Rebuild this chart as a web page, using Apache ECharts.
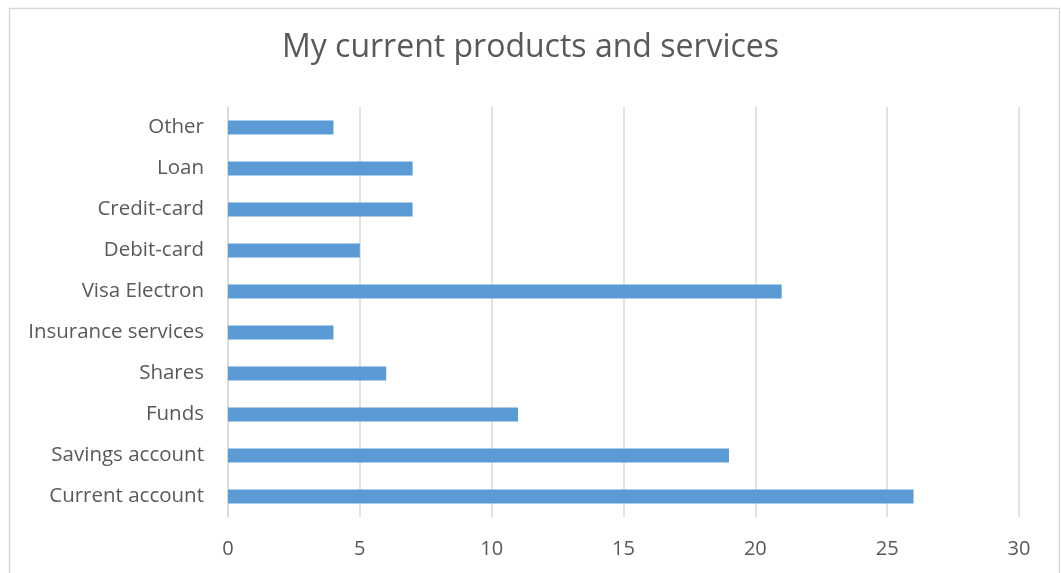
<!DOCTYPE html>
<html>
<head>
<meta charset="utf-8">
<style>
  html, body { margin: 0; padding: 0; background: #ffffff; }
  #chart { width: 1061px; height: 573px; }
</style>
<script src="https://cdn.jsdelivr.net/npm/echarts@6/dist/echarts.min.js"></script>
</head>
<body>
<div id="chart"></div>
<script>
// Products and services currently held (counts)
const categories = [
  'Current account', 'Savings account', 'Funds', 'Shares', 'Insurance services',
  'Visa Electron', 'Debit-card', 'Credit-card', 'Loan', 'Other'
];
const counts = [26, 19, 11, 6, 4, 21, 5, 7, 7, 4];
const xTicks = { min: 0, max: 30, interval: 5 };

const textColor = '#595959';
const fontFamily = '"Open Sans", "Noto Sans", sans-serif';

const chart = echarts.init(document.getElementById('chart'), null, { renderer: 'canvas' });
chart.setOption({
  backgroundColor: '#ffffff',
  animation: false,
  title: {
    text: 'My current products and services',
    left: 'center',
    top: 27,
    textStyle: { color: textColor, fontFamily, fontSize: 32, fontWeight: 'normal' }
  },
  graphic: [{
    type: 'rect',
    shape: { x: 9.5, y: 8.5, width: 1050, height: 600 },
    style: { fill: 'none', stroke: '#d9d9d9', lineWidth: 1.5 },
    silent: true
  }],
  grid: { left: 228, right: 42, top: 107, bottom: 56, containLabel: false },
  xAxis: {
    type: 'value',
    min: xTicks.min, max: xTicks.max, interval: xTicks.interval,
    axisLine: { show: false },
    axisTick: { show: false },
    axisLabel: { color: textColor, fontFamily, fontSize: 20, margin: 22 },
    splitLine: { show: true, lineStyle: { color: '#d9d9d9', width: 1.5 } }
  },
  yAxis: {
    type: 'category',
    data: categories,
    axisLine: { show: true, lineStyle: { color: '#d9d9d9', width: 1.5 } },
    axisTick: { show: false },
    axisLabel: { color: textColor, fontFamily, fontSize: 20.5, margin: 24 },
    splitLine: { show: false }
  },
  series: [{
    type: 'bar',
    data: counts,
    barWidth: 14,
    itemStyle: { color: '#5b9bd5' }
  }]
});
</script>
</body>
</html>
